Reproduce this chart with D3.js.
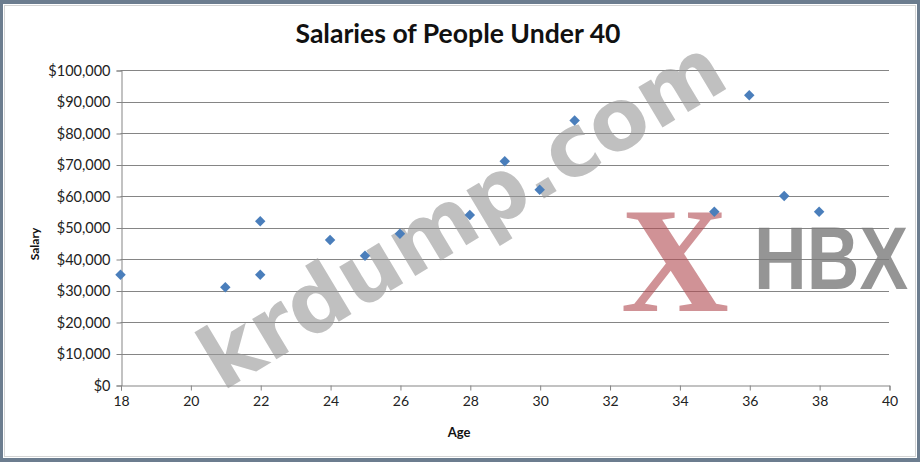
<!DOCTYPE html>
<html><head><meta charset="utf-8">
<script src="https://cdn.jsdelivr.net/npm/d3@7"></script>
<style>
html,body{margin:0;padding:0;background:#fff;}
svg{display:block;}
</style></head>
<body>
<svg id="chart" width="920" height="462"></svg>
<script>
const title = "Salaries of People Under 40";
const xLabel = "Age";
const yLabel = "Salary";
const ages = [18, 21, 22, 22, 24, 25, 26, 28, 29, 30, 31, 35, 36, 37, 38];
const salaries = [35000, 31000, 52000, 35000, 46000, 41000, 48000, 54000, 71000, 62000, 84000, 55000, 92000, 60000, 55000];
const xTicks = [18, 20, 22, 24, 26, 28, 30, 32, 34, 36, 38, 40];
const yTicks = [0, 10000, 20000, 30000, 40000, 50000, 60000, 70000, 80000, 90000, 100000];

const svg = d3.select("#chart");
const W = 920, H = 462;
const font = "Lato, 'Open Sans', sans-serif";

// frame
svg.append("rect").attr("x",0).attr("y",0).attr("width",W).attr("height",H).attr("fill","#6c7d8f");
svg.append("rect").attr("x",3).attr("y",4).attr("width",W-6).attr("height",H-8).attr("fill","#fff");
svg.append("rect").attr("x",4.5).attr("y",5.5).attr("width",W-9).attr("height",H-11).attr("fill","none").attr("stroke","#d4d4d4").attr("stroke-width",1);

const x = d3.scaleLinear().domain([18, 40]).range([120.5, 889]);
const y = d3.scaleLinear().domain([0, 100000]).range([385, 70]);

// gridlines
svg.append("g").selectAll("line").data(yTicks.filter(d=>d>0)).join("line")
  .attr("x1", x(18)).attr("x2", x(40))
  .attr("y1", d=>Math.round(y(d))+0.5).attr("y2", d=>Math.round(y(d))+0.5)
  .attr("stroke","#858585").attr("stroke-width",1);

// y axis
const yAxis = d3.axisLeft(y).tickValues(yTicks).tickSize(5).tickPadding(6)
  .tickFormat(d => "$" + d3.format(",")(d));
const gy = svg.append("g").attr("transform", `translate(${Math.round(x(18))+0.5},0.5)`).call(yAxis);
gy.select(".domain").attr("stroke","#858585");
gy.selectAll(".tick line").attr("stroke","#858585");
gy.selectAll(".tick text").attr("font-family",font).attr("font-size",14.5).attr("fill","#222");

// x axis
const xAxis = d3.axisBottom(x).tickValues(xTicks).tickSize(5).tickPadding(6).tickFormat(d3.format("d"));
const gx = svg.append("g").attr("transform", `translate(0.5,${Math.round(y(0))+0.5})`).call(xAxis);
gx.select(".domain").attr("stroke","#858585");
gx.selectAll(".tick line").attr("stroke","#858585");
gx.selectAll(".tick text").attr("font-family",font).attr("font-size",14).attr("fill","#222");

// title
const t = svg.append("text").attr("x",458).attr("y",43).attr("text-anchor","middle")
  .attr("font-family",font).attr("font-weight","bold").attr("font-size",26).attr("fill","#111")
  .text(title);
t.attr("textLength",325).attr("lengthAdjust","spacingAndGlyphs");

// axis titles
svg.append("text").attr("x",459).attr("y",437).attr("text-anchor","middle")
  .attr("font-family",font).attr("font-weight","bold").attr("font-size",13).attr("fill","#111").text(xLabel);
svg.append("text").attr("transform","translate(39,244) rotate(-90)").attr("text-anchor","middle")
  .attr("font-family",font).attr("font-weight","bold").attr("font-size",12).attr("fill","#111").text(yLabel);

// watermarks
svg.append("text").attr("transform","translate(222,392) rotate(-31)")
  .attr("font-family","'DejaVu Sans', sans-serif").attr("font-weight","bold").attr("font-size",86)
  .attr("fill","#9a9a9a").attr("fill-opacity",0.62).text("krdump.com")
  .attr("textLength",595).attr("lengthAdjust","spacingAndGlyphs");
svg.append("text").attr("x",675).attr("y",311).attr("text-anchor","middle")
  .attr("font-family","'Liberation Serif', serif").attr("font-weight","bold").attr("font-size",150)
  .attr("fill","#b04a50").attr("fill-opacity",0.6).text("X");
svg.append("text").attr("transform","translate(754,289) scale(1,1.22)")
  .attr("font-family","'Liberation Sans', sans-serif").attr("font-weight","bold").attr("font-size",73)
  .attr("fill","#7a7a7a").attr("fill-opacity",0.8).text("HBX");

// points
const pts = ages.map((a,i)=>({a, s: salaries[i]}));
svg.append("g").selectAll("path").data(pts).join("path")
  .attr("d", d3.symbol().type(d3.symbolDiamond2).size(70))
  .attr("transform", d=>`translate(${x(d.a)},${y(d.s)})`)
  .attr("fill","#4a7ebb");
</script>
</body></html>
